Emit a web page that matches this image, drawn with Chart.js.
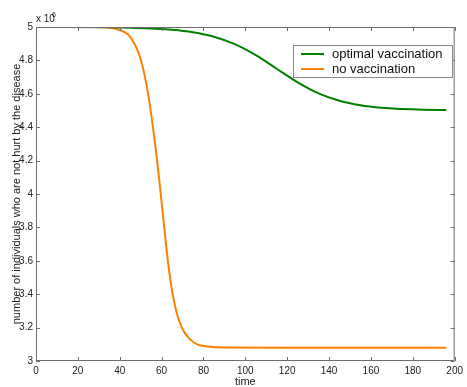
<!DOCTYPE html>
<html>
<head>
<meta charset="utf-8">
<script src="https://cdn.jsdelivr.net/npm/chart.js@4/dist/chart.umd.min.js"></script>
<style>
  html, body { margin: 0; padding: 0; background: #fff; }
  #wrap { width: 467px; height: 387px; }
</style>
</head>
<body>
<div id="wrap"><canvas id="c" width="467" height="387"></canvas></div>
<script>
// values in units of 10^6 individuals
const optimalTime = [0, 35, 45, 55, 65, 75, 85, 95, 105, 115, 125, 135, 145, 155, 165, 175, 185, 196];
const optimalValue = [5.0, 4.998, 4.996, 4.991, 4.984, 4.969, 4.942, 4.897, 4.831, 4.75, 4.669, 4.603, 4.558, 4.531, 4.516, 4.509, 4.505, 4.503];

const noVaccTime = [0, 27, 35, 40, 44, 47, 49, 51, 53, 55, 57, 59, 61, 63, 65, 67, 69, 71, 74, 77, 82, 90, 120, 160, 196];
const noVaccValue = [5.0, 5.0, 4.995, 4.982, 4.955, 4.9, 4.845, 4.76, 4.64, 4.48, 4.29, 4.07, 3.83, 3.6, 3.42, 3.3, 3.22, 3.17, 3.125, 3.1, 3.087, 3.081, 3.08, 3.08, 3.08];

const seriesLabels = ['optimal vaccination', 'no vaccination'];
const seriesColors = ['#008000', '#ff8000'];

const FONT = "'Liberation Sans', Arial, Helvetica, sans-serif";
const AXIS_COLOR = '#6e6e6e';

function toPoints(xs, ys) {
  return xs.map((x, i) => ({ x, y: ys[i] }));
}

// box, inward ticks, exponent, y title and legend, matlab style
const matlabFrame = {
  id: 'matlabFrame',
  afterDraw(chart) {
    const { ctx, chartArea: a, scales } = chart;
    const xs = scales.x, ys = scales.y;
    const tl = 4;
    ctx.save();
    ctx.strokeStyle = AXIS_COLOR;
    ctx.lineWidth = 1;
    ctx.beginPath();
    ctx.rect(a.left + 0.5, a.top + 0.5, a.right - a.left - 1, a.bottom - a.top - 1);
    xs.ticks.forEach(t => {
      const px = Math.round(xs.getPixelForValue(t.value)) + 0.5;
      ctx.moveTo(px, a.bottom); ctx.lineTo(px, a.bottom - tl);
      ctx.moveTo(px, a.top); ctx.lineTo(px, a.top + tl);
    });
    ys.ticks.forEach(t => {
      const py = Math.round(ys.getPixelForValue(t.value)) + 0.5;
      ctx.moveTo(a.left, py); ctx.lineTo(a.left + tl, py);
      ctx.moveTo(a.right, py); ctx.lineTo(a.right - tl, py);
    });
    ctx.stroke();

    // exponent label
    ctx.fillStyle = '#222';
    ctx.font = '10px ' + FONT;
    ctx.textBaseline = 'middle';
    ctx.textAlign = 'left';
    ctx.fillText('x 10', 36, 19);
    ctx.font = '7px ' + FONT;
    ctx.fillText('6', 52, 15);

    // y title, overlapping the tick labels as in the original
    ctx.save();
    ctx.translate(17, (a.top + a.bottom) / 2);
    ctx.rotate(-Math.PI / 2);
    ctx.font = '11px ' + FONT;
    ctx.textAlign = 'center';
    ctx.fillText('number of individuals who are not hurt by the disease', 0, 0);
    ctx.restore();

    // legend
    const lx = 293, ly = 45, lw = 160, lh = 33;
    ctx.fillStyle = '#fff';
    ctx.fillRect(lx, ly, lw, lh);
    ctx.strokeStyle = '#8a8a8a';
    ctx.strokeRect(lx + 0.5, ly + 0.5, lw - 1, lh - 1);
    ctx.font = '13px ' + FONT;
    chart.data.datasets.forEach((ds, i) => {
      const cy = ly + 9 + i * 15;
      ctx.strokeStyle = ds.borderColor;
      ctx.lineWidth = 2;
      ctx.beginPath();
      ctx.moveTo(301, cy); ctx.lineTo(324, cy);
      ctx.stroke();
      ctx.fillStyle = '#111';
      ctx.fillText(ds.label, 332, cy);
    });
    ctx.restore();
  }
};

new Chart(document.getElementById('c'), {
  type: 'line',
  data: {
    datasets: [
      {
        label: seriesLabels[0],
        data: toPoints(optimalTime, optimalValue),
        borderColor: seriesColors[0],
      },
      {
        label: seriesLabels[1],
        data: toPoints(noVaccTime, noVaccValue),
        borderColor: seriesColors[1],
      },
    ].map(ds => ({
      ...ds,
      borderWidth: 2,
      pointRadius: 0,
      fill: false,
      cubicInterpolationMode: 'monotone',
      clip: 0,
    })),
  },
  options: {
    responsive: false,
    animation: false,
    events: [],
    layout: { padding: { top: 27, right: 8, left: 0, bottom: 0 } },
    plugins: {
      legend: { display: false },
      tooltip: { enabled: false },
    },
    scales: {
      x: {
        type: 'linear',
        min: 0,
        max: 200,
        grid: { display: false, drawTicks: false },
        border: { display: false },
        ticks: {
          stepSize: 20,
          padding: 4,
          maxRotation: 0,
          color: '#222',
          font: { family: FONT, size: 10 },
        },
        title: {
          display: true,
          text: 'time',
          color: '#222',
          padding: { top: 0, bottom: -2 },
          font: { family: FONT, size: 11 },
        },
        afterFit(scale) { scale.height = 26; },
      },
      y: {
        min: 3,
        max: 5,
        grid: { display: false, drawTicks: false },
        border: { display: false },
        ticks: {
          stepSize: 0.2,
          padding: 3,
          color: '#222',
          font: { family: FONT, size: 10 },
          callback: v => String(Number(v.toFixed(1))),
        },
        afterFit(scale) { scale.width = 36; },
      },
    },
  },
  plugins: [matlabFrame],
});
</script>
</body>
</html>
